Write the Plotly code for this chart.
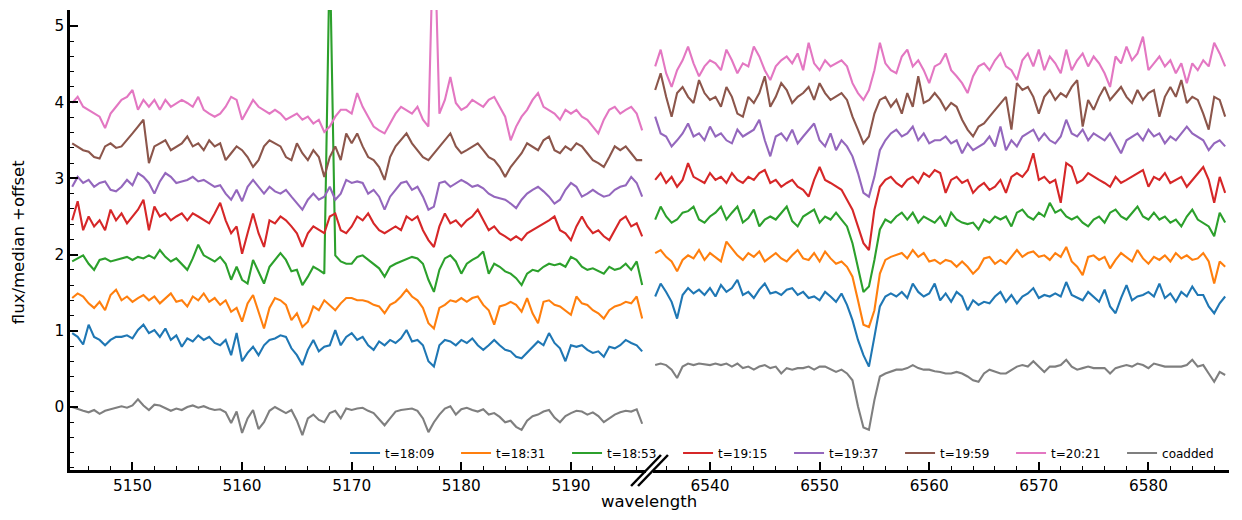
import numpy as np
import plotly.graph_objects as go

# wavelength grids (Angstrom), 0.5 A sampling
wl_left = np.arange(5144.5, 5196.51, 0.5)
wl_right = np.arange(6535.0, 6587.01, 0.5)

labels = ['t=18:09', 't=18:31', 't=18:53', 't=19:15', 't=19:37', 't=19:59', 't=20:21', 'coadded']
colors = ['#1f77b4', '#ff7f0e', '#2ca02c', '#d62728', '#9467bd', '#8c564b', '#e377c2', '#7f7f7f']

# flux/median + offset, blue region
blue_left = [0.97, 0.92, 0.82, 1.08, 0.92, 0.88, 0.81, 0.88, 0.92, 0.92,
             0.94, 0.90, 1.01, 1.08, 0.97, 1.01, 0.92, 1.03, 0.88, 0.94,
             0.79, 0.90, 0.86, 0.94, 0.88, 0.92, 0.84, 0.81, 0.88, 0.68,
             0.97, 0.60, 0.71, 0.79, 0.68, 0.81, 0.88, 0.90, 0.94, 0.92,
             0.77, 0.68, 0.55, 0.75, 0.88, 0.73, 0.79, 0.81, 1.01, 0.81,
             0.92, 0.97, 0.88, 0.92, 0.81, 0.75, 0.86, 0.81, 0.88, 0.84,
             0.90, 1.01, 0.86, 0.88, 0.81, 0.60, 0.53, 0.81, 0.88, 0.86,
             0.81, 0.88, 0.84, 0.90, 0.81, 0.75, 0.81, 0.88, 0.81, 0.75,
             0.73, 0.66, 0.64, 0.71, 0.79, 0.86, 0.81, 0.97, 0.84, 0.77,
             0.60, 0.81, 0.79, 0.81, 0.75, 0.71, 0.73, 0.66, 0.79, 0.77,
             0.81, 0.88, 0.84, 0.81, 0.73]
orange_left = [1.43, 1.49, 1.45, 1.36, 1.30, 1.38, 1.27, 1.47, 1.54, 1.40,
               1.45, 1.38, 1.43, 1.47, 1.40, 1.45, 1.36, 1.43, 1.49, 1.38,
               1.40, 1.32, 1.45, 1.40, 1.49, 1.38, 1.43, 1.34, 1.40, 1.25,
               1.30, 1.12, 1.36, 1.47, 1.25, 1.03, 1.30, 1.43, 1.40, 1.34,
               1.14, 1.23, 1.05, 1.12, 1.32, 1.27, 1.40, 1.34, 1.27, 1.36,
               1.43, 1.43, 1.40, 1.40, 1.38, 1.34, 1.32, 1.23, 1.34, 1.38,
               1.45, 1.54, 1.45, 1.40, 1.30, 1.10, 1.03, 1.30, 1.34, 1.40,
               1.38, 1.43, 1.38, 1.43, 1.45, 1.34, 1.27, 1.08, 1.32, 1.34,
               1.38, 1.34, 1.25, 1.43, 1.23, 1.10, 1.38, 1.40, 1.34, 1.32,
               1.27, 1.21, 1.45, 1.36, 1.34, 1.27, 1.23, 1.16, 1.27, 1.32,
               1.34, 1.38, 1.36, 1.45, 1.16]
green_left = [1.91, 1.95, 1.99, 1.88, 1.80, 1.93, 1.95, 1.91, 1.93, 1.95,
              1.97, 1.93, 1.97, 1.95, 1.99, 1.95, 2.06, 1.97, 1.91, 1.95,
              1.88, 1.80, 1.95, 2.13, 1.99, 1.95, 1.91, 1.97, 1.88, 1.67,
              1.84, 1.67, 1.62, 1.93, 1.78, 1.62, 1.84, 1.93, 2.02, 1.93,
              1.78, 1.80, 1.60, 1.71, 1.84, 1.80, 1.75, 6.00, 1.99, 1.91,
              1.88, 1.88, 1.97, 1.99, 1.93, 1.88, 1.82, 1.71, 1.84, 1.88,
              1.91, 1.95, 1.97, 1.95, 1.88, 1.67, 1.51, 1.80, 1.95, 1.99,
              1.91, 1.75, 1.88, 1.93, 1.97, 2.04, 1.75, 1.88, 1.84, 1.78,
              1.75, 1.69, 1.60, 1.75, 1.80, 1.78, 1.84, 1.88, 1.86, 1.88,
              1.84, 1.97, 1.93, 1.84, 1.80, 1.82, 1.78, 1.75, 1.84, 1.80,
              1.82, 1.88, 1.80, 1.91, 1.60]
red_left = [2.45, 2.70, 2.32, 2.50, 2.37, 2.45, 2.32, 2.59, 2.45, 2.54,
            2.41, 2.50, 2.59, 2.72, 2.32, 2.63, 2.50, 2.54, 2.45, 2.50,
            2.54, 2.45, 2.54, 2.50, 2.45, 2.41, 2.54, 2.68, 2.45, 2.28,
            2.37, 2.01, 2.28, 2.54, 2.28, 2.10, 2.45, 2.41, 2.50, 2.45,
            2.37, 2.28, 2.10, 2.28, 2.37, 2.32, 2.28, 2.50, 2.54, 2.32,
            2.28, 2.37, 2.50, 2.45, 2.54, 2.41, 2.32, 2.28, 2.32, 2.37,
            2.32, 2.50, 2.45, 2.50, 2.32, 2.19, 2.10, 2.37, 2.54, 2.41,
            2.45, 2.37, 2.45, 2.50, 2.59, 2.45, 2.32, 2.37, 2.28, 2.24,
            2.19, 2.24, 2.19, 2.28, 2.32, 2.37, 2.41, 2.45, 2.50, 2.32,
            2.28, 2.19, 2.37, 2.50, 2.37, 2.28, 2.32, 2.24, 2.19, 2.32,
            2.45, 2.50, 2.37, 2.41, 2.24]
purple_left = [2.89, 3.02, 2.94, 2.98, 2.89, 2.94, 2.96, 2.85, 2.83, 2.89,
               2.98, 2.91, 3.07, 3.02, 2.94, 2.80, 2.96, 3.07, 3.02, 2.94,
               2.96, 2.98, 3.02, 2.96, 2.98, 2.94, 2.89, 2.91, 2.80, 2.72,
               2.85, 2.70, 2.89, 2.98, 2.89, 2.80, 2.89, 2.83, 2.80, 2.85,
               2.76, 2.67, 2.59, 2.72, 2.80, 2.72, 2.76, 2.89, 2.72, 2.80,
               2.98, 2.94, 2.96, 2.94, 2.80, 2.85, 2.76, 2.59, 2.76, 2.85,
               2.94, 2.96, 2.85, 2.89, 2.76, 2.59, 2.63, 2.94, 2.96, 2.89,
               2.94, 2.98, 2.94, 2.89, 2.91, 2.87, 2.80, 2.76, 2.74, 2.72,
               2.67, 2.61, 2.72, 2.80, 2.85, 2.89, 2.83, 2.76, 2.67, 2.72,
               2.85, 2.94, 2.89, 2.76, 2.80, 2.85, 2.80, 2.76, 2.78, 2.85,
               2.89, 2.91, 3.02, 2.94, 2.76]
brown_left = [3.46, 3.42, 3.37, 3.35, 3.28, 3.26, 3.42, 3.46, 3.40, 3.42,
              3.50, 3.59, 3.68, 3.77, 3.20, 3.42, 3.46, 3.50, 3.37, 3.42,
              3.46, 3.55, 3.42, 3.46, 3.37, 3.50, 3.42, 3.46, 3.24, 3.33,
              3.42, 3.37, 3.28, 3.15, 3.24, 3.42, 3.50, 3.46, 3.42, 3.28,
              3.24, 3.46, 3.33, 3.24, 3.37, 3.28, 3.02, 3.28, 3.42, 3.24,
              3.59, 3.46, 3.59, 3.42, 3.28, 3.24, 3.15, 2.98, 3.28, 3.42,
              3.50, 3.59, 3.46, 3.37, 3.28, 3.24, 3.33, 3.42, 3.50, 3.59,
              3.42, 3.33, 3.37, 3.42, 3.46, 3.37, 3.28, 3.24, 3.15, 3.02,
              3.15, 3.24, 3.33, 3.46, 3.42, 3.37, 3.50, 3.55, 3.37, 3.33,
              3.42, 3.37, 3.46, 3.42, 3.33, 3.24, 3.20, 3.15, 3.28, 3.42,
              3.37, 3.42, 3.33, 3.24, 3.24]
pink_left = [3.99, 4.07, 3.94, 3.90, 3.85, 3.81, 3.66, 3.85, 3.94, 4.03,
             4.07, 4.16, 3.90, 4.03, 3.94, 4.03, 3.90, 4.03, 3.94, 3.99,
             4.03, 3.99, 3.94, 4.07, 3.90, 3.85, 3.81, 3.85, 3.94, 4.07,
             4.03, 3.77, 3.90, 4.03, 3.94, 3.90, 3.85, 3.90, 3.85, 3.77,
             3.81, 3.85, 3.77, 3.81, 3.72, 3.77, 3.61, 3.68, 3.81, 3.90,
             3.90, 3.85, 4.12, 3.94, 3.81, 3.68, 3.63, 3.59, 3.72, 3.85,
             3.94, 3.90, 3.85, 3.94, 3.77, 3.68, 6.50, 3.85, 4.03, 4.33,
             3.99, 3.90, 3.94, 4.03, 3.99, 3.94, 4.03, 4.07, 3.94, 3.81,
             3.50, 3.68, 3.81, 3.90, 4.03, 4.12, 3.94, 3.90, 3.85, 3.77,
             3.90, 3.85, 3.90, 3.81, 3.77, 3.68, 3.59, 3.77, 3.90, 3.94,
             3.85, 3.90, 3.94, 3.85, 3.63]
coadd_left = [0.00, -0.03, -0.05, -0.07, -0.04, -0.09, -0.05, -0.03, -0.01, 0.01,
              -0.01, 0.02, 0.10, 0.02, -0.04, 0.03, 0.02, -0.01, -0.05, -0.02,
              -0.04, 0.00, 0.02, -0.01, 0.01, -0.02, -0.04, -0.03, -0.07, -0.21,
              -0.06, -0.34, -0.15, -0.04, -0.29, -0.20, -0.05, 0.00, -0.04, -0.08,
              -0.04, -0.18, -0.37, -0.15, -0.10, -0.17, -0.20, -0.08, -0.05, -0.15,
              -0.02, -0.04, -0.02, -0.01, -0.05, -0.08, -0.16, -0.24, -0.15, -0.06,
              -0.04, -0.03, -0.02, -0.05, -0.15, -0.33, -0.20, -0.10, -0.02, 0.01,
              -0.10, -0.03, -0.01, -0.04, -0.06, -0.03, -0.10, -0.08, -0.13, -0.20,
              -0.18, -0.26, -0.30, -0.18, -0.12, -0.10, -0.06, -0.04, -0.14, -0.20,
              -0.12, -0.08, -0.05, -0.06, -0.10, -0.07, -0.12, -0.20, -0.15, -0.10,
              -0.07, -0.05, -0.06, -0.03, -0.22]

# flux/median + offset, H-alpha region
blue_right = [1.45, 1.62, 1.51, 1.38, 1.16, 1.47, 1.56, 1.49, 1.54, 1.47,
              1.56, 1.45, 1.60, 1.51, 1.56, 1.67, 1.47, 1.51, 1.43, 1.54,
              1.62, 1.49, 1.51, 1.47, 1.54, 1.56, 1.47, 1.51, 1.43, 1.45,
              1.40, 1.51, 1.45, 1.38, 1.49, 1.34, 1.14, 0.88, 0.68, 0.53,
              0.92, 1.32, 1.45, 1.49, 1.45, 1.51, 1.43, 1.62, 1.51, 1.45,
              1.49, 1.62, 1.40, 1.49, 1.38, 1.51, 1.45, 1.27, 1.40, 1.34,
              1.38, 1.36, 1.45, 1.51, 1.38, 1.47, 1.36, 1.45, 1.49, 1.56,
              1.43, 1.47, 1.45, 1.49, 1.45, 1.64, 1.47, 1.43, 1.40, 1.51,
              1.45, 1.38, 1.54, 1.32, 1.23, 1.43, 1.60, 1.40, 1.45, 1.47,
              1.51, 1.45, 1.62, 1.43, 1.49, 1.38, 1.51, 1.45, 1.58, 1.47,
              1.47, 1.32, 1.23, 1.36, 1.45]
orange_right = [2.02, 2.06, 1.97, 1.91, 1.78, 1.93, 1.99, 1.95, 2.06, 1.93,
                2.02, 1.97, 1.91, 2.17, 2.08, 1.99, 1.93, 2.02, 1.97, 2.04,
                1.91, 1.97, 2.02, 1.95, 1.91, 1.99, 2.06, 1.95, 1.93, 2.02,
                1.91, 2.04, 1.95, 1.88, 1.91, 1.84, 1.71, 1.40, 1.08, 1.05,
                1.27, 1.75, 1.93, 1.97, 1.99, 2.02, 1.95, 2.06, 1.97, 2.02,
                1.91, 1.93, 1.88, 1.93, 1.91, 1.84, 1.91, 1.84, 1.75, 1.82,
                1.95, 1.97, 1.88, 1.93, 1.88, 1.97, 2.06, 1.97, 2.02, 2.04,
                1.97, 1.99, 1.93, 2.02, 1.97, 2.10, 1.91, 1.84, 1.73, 1.97,
                1.99, 1.93, 1.97, 1.82, 1.93, 2.02, 1.97, 1.91, 2.06, 1.95,
                1.88, 1.97, 1.93, 1.99, 1.91, 2.02, 1.95, 1.99, 1.93, 1.95,
                2.02, 1.91, 1.62, 1.91, 1.84]
green_right = [2.46, 2.63, 2.50, 2.42, 2.46, 2.55, 2.57, 2.63, 2.46, 2.42,
               2.50, 2.55, 2.63, 2.46, 2.55, 2.63, 2.42, 2.48, 2.59, 2.37,
               2.46, 2.50, 2.46, 2.55, 2.63, 2.44, 2.37, 2.50, 2.55, 2.59,
               2.42, 2.50, 2.46, 2.55, 2.46, 2.37, 2.15, 1.84, 1.51, 1.58,
               1.93, 2.33, 2.46, 2.42, 2.50, 2.55, 2.46, 2.55, 2.42, 2.50,
               2.46, 2.42, 2.50, 2.37, 2.55, 2.46, 2.42, 2.40, 2.42, 2.33,
               2.46, 2.42, 2.50, 2.46, 2.50, 2.37, 2.55, 2.59, 2.50, 2.46,
               2.55, 2.50, 2.68, 2.55, 2.59, 2.50, 2.46, 2.50, 2.42, 2.37,
               2.46, 2.50, 2.42, 2.55, 2.59, 2.50, 2.46, 2.55, 2.63, 2.50,
               2.46, 2.55, 2.46, 2.50, 2.42, 2.46, 2.37, 2.50, 2.59, 2.46,
               2.42, 2.37, 2.24, 2.55, 2.42]
red_right = [2.98, 3.07, 2.94, 3.02, 2.89, 2.98, 3.20, 3.02, 2.98, 2.94,
             3.07, 2.98, 3.02, 2.94, 3.07, 2.98, 2.94, 3.02, 2.98, 3.07,
             3.11, 2.94, 2.98, 2.89, 2.94, 2.98, 2.89, 2.85, 2.76, 2.98,
             3.15, 2.98, 2.94, 2.89, 2.85, 2.72, 2.59, 2.37, 2.15, 2.06,
             2.59, 2.89, 2.98, 3.02, 2.94, 2.89, 2.98, 3.02, 2.94, 3.07,
             3.02, 3.11, 3.07, 2.81, 2.98, 3.02, 2.94, 2.98, 2.81, 2.89,
             2.94, 2.85, 2.89, 2.98, 2.81, 3.02, 3.07, 3.02, 3.11, 3.33,
             2.98, 3.02, 2.94, 2.98, 2.68, 3.20, 3.15, 2.94, 2.98, 3.07,
             3.02, 2.98, 2.94, 2.89, 3.02, 2.94, 2.98, 3.02, 3.07, 3.11,
             2.89, 3.02, 2.98, 3.07, 2.94, 2.98, 3.02, 2.89, 2.98, 3.07,
             3.15, 2.98, 2.68, 3.02, 2.81]
purple_right = [3.81, 3.59, 3.55, 3.42, 3.50, 3.59, 3.72, 3.55, 3.59, 3.50,
                3.68, 3.55, 3.59, 3.50, 3.46, 3.64, 3.55, 3.59, 3.64, 3.77,
                3.50, 3.29, 3.55, 3.59, 3.50, 3.64, 3.46, 3.55, 3.64, 3.72,
                3.50, 3.42, 3.59, 3.37, 3.50, 3.42, 3.29, 3.07, 2.81, 2.76,
                3.02, 3.37, 3.50, 3.59, 3.64, 3.55, 3.59, 3.68, 3.50, 3.59,
                3.46, 3.50, 3.50, 3.55, 3.46, 3.50, 3.33, 3.46, 3.37, 3.42,
                3.46, 3.55, 3.42, 3.68, 3.37, 3.50, 3.42, 3.55, 3.59, 3.64,
                3.50, 3.59, 3.50, 3.46, 3.55, 3.77, 3.59, 3.55, 3.64, 3.50,
                3.59, 3.55, 3.50, 3.59, 3.46, 3.33, 3.50, 3.55, 3.59, 3.50,
                3.64, 3.55, 3.59, 3.46, 3.55, 3.50, 3.59, 3.68, 3.59, 3.55,
                3.50, 3.37, 3.46, 3.50, 3.42]
brown_right = [4.16, 4.38, 4.07, 3.81, 4.12, 4.20, 4.07, 3.99, 4.29, 4.12,
               4.03, 4.07, 3.94, 4.20, 4.07, 3.85, 3.81, 4.07, 3.99, 4.12,
               4.34, 3.94, 4.07, 4.25, 4.16, 3.99, 4.07, 4.12, 4.20, 4.03,
               4.25, 4.12, 4.03, 4.07, 4.12, 4.03, 3.81, 3.64, 3.46, 3.55,
               3.85, 4.03, 4.07, 3.94, 4.03, 3.85, 4.12, 3.94, 4.34, 3.99,
               4.03, 4.12, 4.03, 3.90, 3.99, 3.94, 3.77, 3.64, 3.55, 3.68,
               3.72, 3.81, 3.90, 3.99, 4.07, 3.64, 4.25, 4.16, 4.20, 4.07,
               3.85, 4.07, 4.16, 4.03, 4.12, 4.07, 4.20, 4.29, 3.68, 4.03,
               3.90, 4.07, 4.20, 4.03, 4.12, 4.20, 4.07, 3.99, 4.16, 4.03,
               4.12, 4.16, 3.81, 4.07, 4.20, 4.07, 4.29, 3.99, 4.07, 4.03,
               3.85, 3.64, 4.07, 4.03, 3.81]
pink_right = [4.47, 4.69, 4.38, 4.20, 4.42, 4.55, 4.73, 4.51, 4.34, 4.47,
              4.55, 4.51, 4.42, 4.69, 4.55, 4.38, 4.51, 4.47, 4.73, 4.60,
              4.42, 4.29, 4.47, 4.55, 4.60, 4.51, 4.64, 4.42, 4.78, 4.51,
              4.42, 4.55, 4.47, 4.51, 4.55, 4.47, 4.25, 4.12, 4.03, 4.16,
              4.42, 4.78, 4.51, 4.42, 4.38, 4.60, 4.69, 4.47, 4.55, 4.42,
              4.25, 4.47, 4.51, 4.64, 4.42, 4.34, 4.25, 4.12, 4.34, 4.47,
              4.51, 4.42, 4.55, 4.64, 4.47, 4.42, 4.29, 4.55, 4.64, 4.47,
              4.69, 4.42, 4.60, 4.51, 4.38, 4.69, 4.42, 4.55, 4.64, 4.47,
              4.60, 4.51, 4.38, 4.20, 4.60, 4.51, 4.73, 4.55, 4.64, 4.86,
              4.42, 4.51, 4.60, 4.47, 4.55, 4.38, 4.51, 4.25, 4.51, 4.42,
              4.55, 4.47, 4.78, 4.64, 4.47]
coadd_right = [0.55, 0.57, 0.55, 0.49, 0.38, 0.53, 0.57, 0.55, 0.57, 0.56,
               0.55, 0.57, 0.55, 0.57, 0.53, 0.57, 0.51, 0.53, 0.49, 0.53,
               0.55, 0.51, 0.53, 0.44, 0.51, 0.49, 0.51, 0.51, 0.53, 0.49,
               0.53, 0.53, 0.49, 0.46, 0.49, 0.44, 0.35, 0.01, -0.27, -0.30,
               0.09, 0.40, 0.44, 0.46, 0.49, 0.49, 0.51, 0.55, 0.51, 0.49,
               0.49, 0.47, 0.46, 0.44, 0.44, 0.46, 0.44, 0.40, 0.35, 0.33,
               0.44, 0.49, 0.46, 0.44, 0.44, 0.49, 0.53, 0.55, 0.53, 0.60,
               0.53, 0.46, 0.53, 0.53, 0.55, 0.62, 0.53, 0.49, 0.51, 0.53,
               0.51, 0.51, 0.51, 0.44, 0.51, 0.53, 0.55, 0.53, 0.57, 0.55,
               0.51, 0.57, 0.55, 0.53, 0.53, 0.53, 0.53, 0.55, 0.62, 0.53,
               0.55, 0.44, 0.33, 0.46, 0.42]

left_series = [blue_left, orange_left, green_left, red_left, purple_left, brown_left, pink_left, coadd_left]
right_series = [blue_right, orange_right, green_right, red_right, purple_right, brown_right, pink_right, coadd_right]

fig = go.Figure()
for lab, col, yl, yr in zip(labels, colors, left_series, right_series):
    fig.add_trace(go.Scatter(x=wl_left[:len(yl)], y=yl, mode='lines', name=lab,
                             line=dict(color=col, width=2.1), legendgroup=lab,
                             xaxis='x', yaxis='y'))
    fig.add_trace(go.Scatter(x=wl_right[:len(yr)], y=yr, mode='lines', name=lab,
                             line=dict(color=col, width=2.1), legendgroup=lab,
                             showlegend=False, xaxis='x2', yaxis='y'))

W, H = 1242, 520
L, R, T, B = 70, 9, 10, 50
pw, ph = W - L - R, H - T - B


def px(x):
    return (x - L) / pw


def py(y):
    return (H - B - y) / ph


ax = dict(showline=True, linecolor='black', linewidth=2.5, ticks='inside', ticklen=8,
          tickwidth=1.5, tickcolor='black', showgrid=False, zeroline=False,
          tickfont=dict(size=15.3, color='black'))
minor_x = dict(ticks='inside', ticklen=4.5, tickwidth=1, tickcolor='black', dtick=2)

fig.update_layout(
    width=W, height=H,
    margin=dict(l=L, r=R, t=T, b=B),
    plot_bgcolor='white', paper_bgcolor='white',
    font=dict(family='DejaVu Sans', size=15, color='black'),
    xaxis=dict(ax, domain=[0, px(648)], range=[5144.3, 5196.85], tick0=5150, dtick=10,
               minor=minor_x, anchor='y'),
    xaxis2=dict(ax, domain=[px(655), 1], range=[6534.8, 6587.35], tick0=6540, dtick=10,
                minor=minor_x, anchor='y'),
    yaxis=dict(ax, range=[-0.827, 5.21], tick0=0, dtick=1,
               minor=dict(ticks='inside', ticklen=4.5, tickwidth=1, tickcolor='black', dtick=0.2)),
    legend=dict(orientation='h', x=px(346), y=py(453), xanchor='left', yanchor='middle',
                font=dict(size=12, color='black'), bgcolor='rgba(0,0,0,0)',
                entrywidth=66, entrywidthmode='pixels', itemwidth=30),
    showlegend=True,
)

fig.add_annotation(text='wavelength', x=px(651), y=py(501), xref='paper', yref='paper',
                   showarrow=False, xanchor='center', yanchor='middle', font=dict(size=16.5))
fig.add_annotation(text='flux/median +offset', x=px(18), y=py(242), xref='paper', yref='paper',
                   showarrow=False, xanchor='center', yanchor='middle', textangle=-90,
                   font=dict(size=16.5))

# axis break marks
for x0 in (633, 640):
    fig.add_shape(type='line', xref='paper', yref='paper',
                  x0=px(x0), y0=py(486), x1=px(x0 + 30), y1=py(455),
                  line=dict(color='black', width=2.5))

fig.write_html('out.html', config={'displayModeBar': False},
               post_script="document.body.style.margin='0px';")
